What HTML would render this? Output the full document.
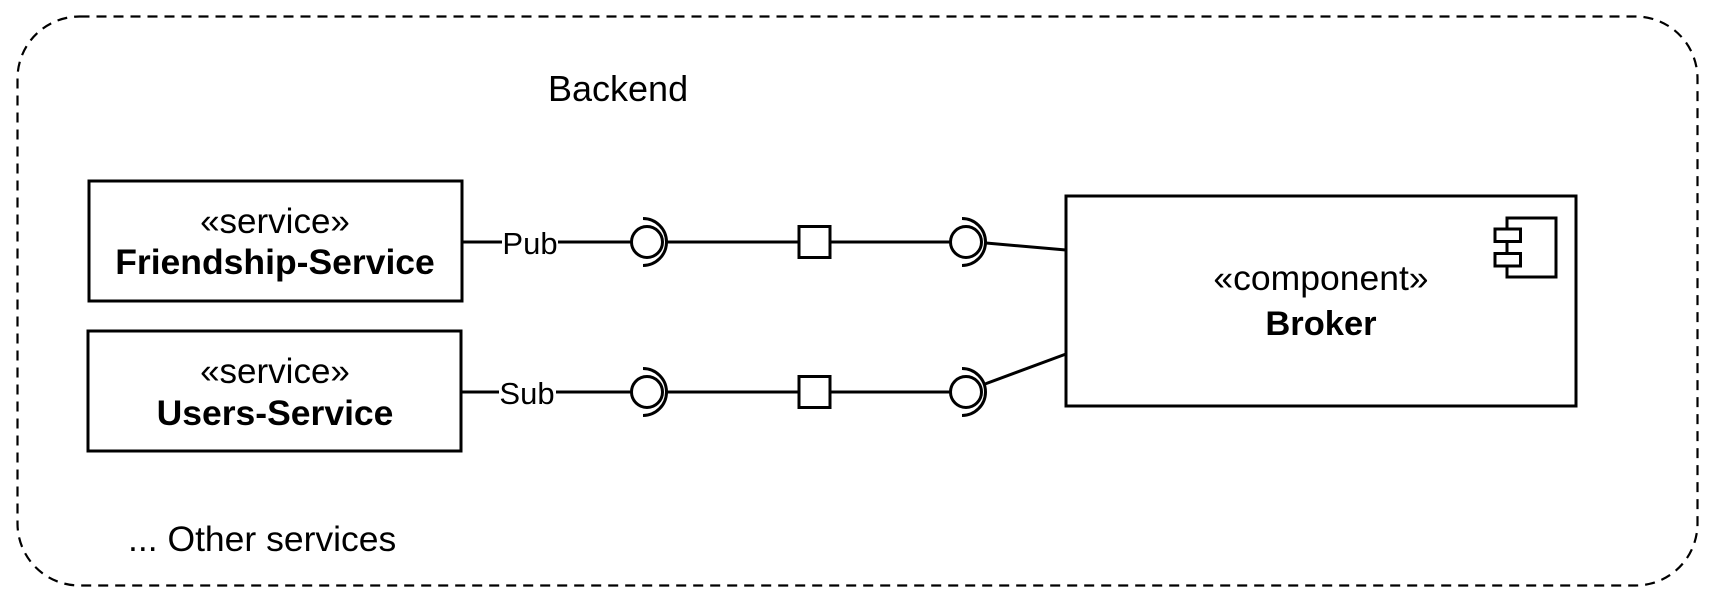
<!DOCTYPE html>
<html><head><meta charset="utf-8"><style>
html,body{margin:0;padding:0;background:#fff;}
svg{display:block;}
text{font-family:"Liberation Sans",Arial,sans-serif;fill:#000;}
</style></head><body>
<svg width="1716" height="606" viewBox="0 0 1716 606" xmlns="http://www.w3.org/2000/svg">
<rect x="17.5" y="16.5" width="1680" height="569" rx="62" ry="62" fill="none" stroke="#000" stroke-width="2.2" stroke-dasharray="10 7"/>
<text x="548" y="101" font-size="36">Backend</text>
<text x="128" y="551" font-size="35.5">... Other services</text>

<rect x="89" y="181" width="373" height="120" fill="#fff" stroke="#000" stroke-width="3"/>
<text x="275" y="233" font-size="35" text-anchor="middle">«service»</text>
<text x="275" y="274" font-size="35.5" font-weight="bold" text-anchor="middle">Friendship-Service</text>

<rect x="88" y="331" width="373" height="120" fill="#fff" stroke="#000" stroke-width="3"/>
<text x="275" y="383" font-size="35" text-anchor="middle">«service»</text>
<text x="275" y="425" font-size="35.5" font-weight="bold" text-anchor="middle">Users-Service</text>

<rect x="1066" y="196" width="510" height="210" fill="#fff" stroke="#000" stroke-width="3"/>
<text x="1321" y="290" font-size="35.5" text-anchor="middle">«component»</text>
<text x="1321" y="335" font-size="34.5" font-weight="bold" text-anchor="middle">Broker</text>
<rect x="1507" y="218" width="49" height="59" fill="#fff" stroke="#000" stroke-width="3"/>
<rect x="1495" y="229" width="25.5" height="12.5" fill="#fff" stroke="#000" stroke-width="3"/>
<rect x="1495" y="253.5" width="25.5" height="12.5" fill="#fff" stroke="#000" stroke-width="3"/>

<g stroke="#000" stroke-width="3" fill="none">
  <line x1="462" y1="242" x2="502" y2="242"/>
  <line x1="558" y1="242" x2="632" y2="242"/>
  <circle cx="647" cy="242" r="15.5" fill="#fff"/>
  <path d="M643 218.5 A23.5 23.5 0 0 1 643 265.5"/>
  <line x1="665" y1="242" x2="799" y2="242"/>
  <rect x="799" y="226.5" width="31" height="31" fill="#fff"/>
  <line x1="830" y1="242" x2="951" y2="242"/>
  <circle cx="966" cy="242" r="15.5" fill="#fff"/>
  <path d="M962 218.5 A23.5 23.5 0 0 1 962 265.5"/>
  <line x1="986" y1="243" x2="1066" y2="250"/>
  <line x1="461" y1="392" x2="499" y2="392"/>
  <line x1="556" y1="392" x2="632" y2="392"/>
  <circle cx="647" cy="392" r="15.5" fill="#fff"/>
  <path d="M643 368.5 A23.5 23.5 0 0 1 643 415.5"/>
  <line x1="665" y1="392" x2="799" y2="392"/>
  <rect x="799" y="376.5" width="31" height="31" fill="#fff"/>
  <line x1="830" y1="392" x2="951" y2="392"/>
  <circle cx="966" cy="392" r="15.5" fill="#fff"/>
  <path d="M962 368.5 A23.5 23.5 0 0 1 962 415.5"/>
  <line x1="985" y1="384" x2="1066" y2="354"/>
</g>
<text x="530" y="254" font-size="31" text-anchor="middle">Pub</text>
<text x="527" y="404" font-size="31" text-anchor="middle">Sub</text>
</svg>
</body></html>
